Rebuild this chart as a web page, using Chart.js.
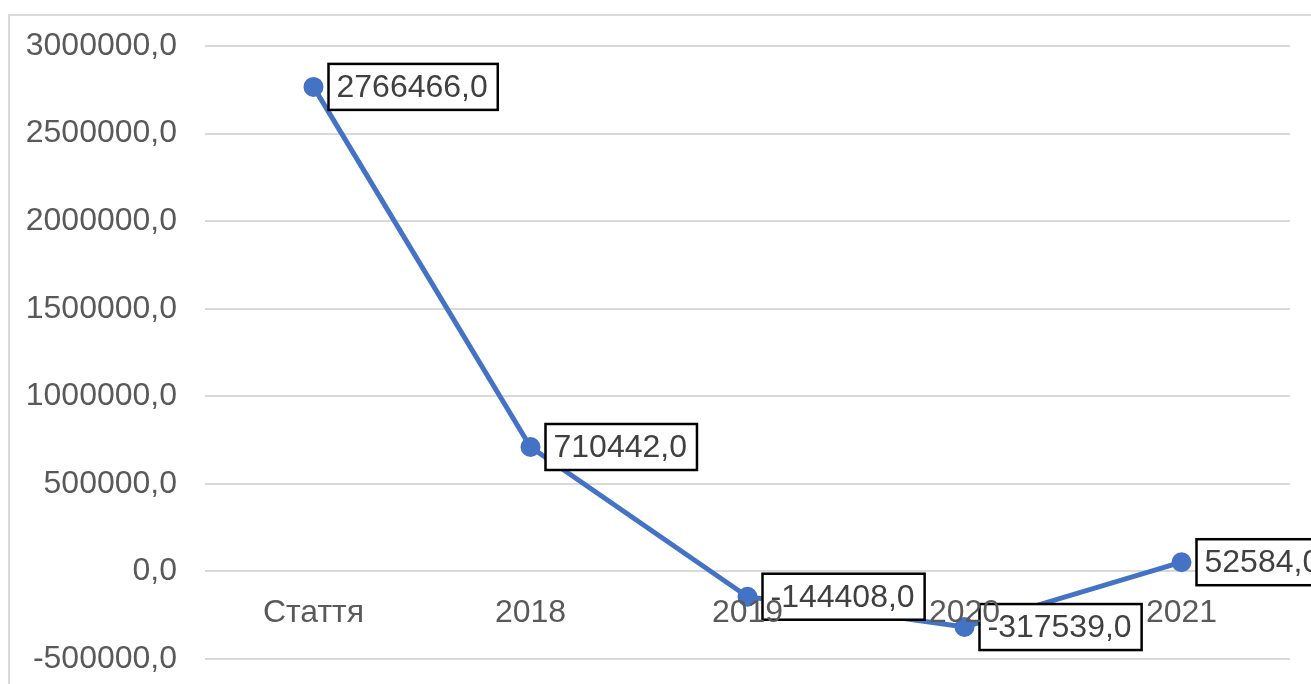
<!DOCTYPE html>
<html>
<head>
<meta charset="utf-8">
<script src="https://cdn.jsdelivr.net/npm/chart.js@4"></script>
<style>
    html, body { margin: 0; padding: 0; overflow: hidden; background: #fff; }
    #frame { position: absolute; left: 8px; top: 14px; width: 1400px; height: 800px; border: 2px solid #d9d9d9; }
    #wrap { position: absolute; left: 0; top: 0; width: 1311px; height: 684px; }
</style>
</head>
<body>
<div id="frame"></div>
<div id="wrap"><canvas id="lineChart"></canvas></div>
<script>
    // Values
    const categories = ['Стаття', '2018', '2019', '2020', '2021'];
    const values = [2766466, 710442, -144408, -317539, 52584];
    const yMin = -500000;
    const yMax = 3000000;
    const yStep = 500000;

    const fmt = v => Number(v).toFixed(1).replace('.', ',');
    const font = '"Liberation Sans", Arial, sans-serif';

    // boxed data labels to the right of each point
    const boxLabels = {
        id: 'boxLabels',
        afterDatasetsDraw(chart) {
            const ctx = chart.ctx;
            const meta = chart.getDatasetMeta(0);
            ctx.save();
            ctx.font = '32px ' + font;
            ctx.textBaseline = 'middle';
            meta.data.forEach((pt, i) => {
                const text = fmt(values[i]);
                const w = ctx.measureText(text).width + 18;
                const h = 46;
                const x = pt.x + 15;
                const y = pt.y - h / 2;
                ctx.fillStyle = '#ffffff';
                ctx.fillRect(x, y, w, h);
                ctx.lineWidth = 2.5;
                ctx.strokeStyle = '#000000';
                ctx.strokeRect(x, y, w, h);
                ctx.fillStyle = '#404040';
                ctx.fillText(text, x + 8, pt.y + 1);
            });
            ctx.restore();
        }
    };

    const chart = new Chart(document.getElementById('lineChart'), {
        type: 'line',
        data: {
            labels: categories,
            datasets: [{
                data: values,
                borderColor: '#4472C4',
                backgroundColor: '#4472C4',
                borderWidth: 5,
                pointRadius: 7.5,
                pointHoverRadius: 7.5,
                tension: 0
            }]
        },
        options: {
            responsive: true,
            maintainAspectRatio: false,
            animation: false,
            layout: { padding: { left: 0, right: 21, top: 46, bottom: 25 } },
            plugins: {
                legend: { display: false },
                tooltip: { enabled: false }
            },
            scales: {
                x: {
                    position: { y: 0 },
                    offset: true,
                    grid: { display: false, drawTicks: false },
                    border: { display: false },
                    ticks: {
                        color: '#595959',
                        font: { family: font, size: 32 },
                        padding: 23,
                        maxRotation: 0,
                        z: 1
                    }
                },
                y: {
                    min: yMin,
                    max: yMax,
                    afterFit: scale => {
                        scale.width = 205;
                        scale.paddingTop = 0;
                        scale.paddingBottom = 0;
                    },
                    grid: { color: '#d9d9d9', lineWidth: 2, drawTicks: false },
                    border: { display: false },
                    ticks: {
                        stepSize: yStep,
                        color: '#595959',
                        font: { family: font, size: 32 },
                        padding: 28,
                        callback: v => fmt(v)
                    }
                }
            }
        },
        plugins: [boxLabels]
    });
</script>
</body>
</html>
